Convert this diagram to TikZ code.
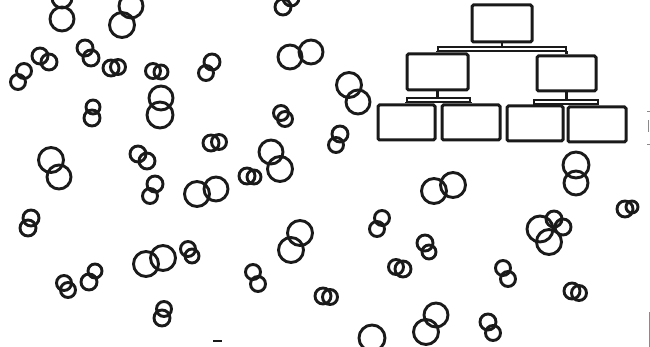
\documentclass[tikz,border=0pt]{standalone}
\usetikzlibrary{calc}
\definecolor{ink}{HTML}{1A1A1A}
\definecolor{faint}{HTML}{8A8A8A}
\begin{document}
\begin{tikzpicture}[x=1pt,y=-1pt,
  ring/.style={draw=ink,line width=2.9pt},
  orgbox/.style={draw=ink,line width=3pt,rectangle,rounded corners=1.5pt,inner sep=0pt,anchor=center},
  link/.style={draw=ink,line width=2.4pt},
  bar/.style={draw=ink,line width=2pt},
  scanmark/.style={draw=faint,line width=1pt}]
\useasboundingbox (0,0) rectangle (650,347);
\fill[white] (0,0) rectangle (650,347);
\begin{scope}
\clip (0,0) rectangle (650,347);
\foreach \cx/\cy/\r in {
  62/-2/10, 62/19/12,
  131/6/12, 122/25/12.5,
  24/71/7.5, 18/82/7.5,
  40/56/8, 49/62/8,
  85/48/8, 91/58/8,
  111/68/8, 118/67/7.5,
  153/71/7.5, 161/72/7,
  212/62/8, 206/73/7.5,
  161/98/12, 160/115/13,
  93/107/7, 92/118/8,
  283/7/8, 291/-2/8,
  290/57/12, 311/52/12,
  349/85/12.5, 358/102/12,
  281/113/7.5, 285/119/7.5,
  51/160/12.5, 59/177/12,
  138/154/8, 147/161/8,
  155/184/8, 150/196/7.5,
  197/194/12.5, 216/189/12,
  211/143/8, 219/142/7.5,
  271/152/12, 280/169/12.5,
  247/176/8, 254/177/7,
  340/134/8, 336/145/7.5,
  434/191/12.5, 453/185/12.5,
  576/165/13, 576/183/12,
  625/209/8, 632/207/6,
  382/218/7.5, 377/229/7.5,
  540/229/13, 554/219/8, 563/227/8, 549/242/12.5,
  31/218/8, 28/228/8,
  64/283/7.5, 68/290/7.5,
  95/271/7, 89/282/8,
  146/264/12.5, 163/258/12.5,
  188/249/7.5, 192/256/7,
  164/309/7.5, 162/318/8,
  300/233/12.5, 291/250/12.5,
  253/272/7.5, 258/284/7.5,
  323/296/8, 330/297/7.5,
  396/267/7.5, 403/269/8,
  372/338/13,
  425/243/8, 429/252/7,
  503/268/7.5, 508/279/7.5,
  572/291/8, 579/293/7.5,
  436/315/12, 426/332/12.5,
  488/322/8, 493/333/7.5}
  {\draw[ring] (\cx,\cy) circle[radius=\r pt];}
% scan marks
\draw[scanmark] (649,312) -- (649,347);
\draw[scanmark] (647,112) -- (650,112);
\draw[scanmark] (648,120) -- (648,132);
\draw[scanmark] (647,145) -- (650,145);
\draw[ink,line width=1.8pt] (213,341) -- (222,341);
\end{scope}
% organisation chart
\node[orgbox,minimum width=60pt,minimum height=37pt] (top) at (502,23.5) {};
\node[orgbox,minimum width=61pt,minimum height=36pt] (midL) at (437.5,72) {};
\node[orgbox,minimum width=59pt,minimum height=35pt] (midR) at (566.5,73.5) {};
\node[orgbox,minimum width=57pt,minimum height=35pt] (b1) at (406.5,122.5) {};
\node[orgbox,minimum width=58pt,minimum height=35pt] (b2) at (471,122.5) {};
\node[orgbox,minimum width=56pt,minimum height=35pt] (b3) at (535,123.5) {};
\node[orgbox,minimum width=58pt,minimum height=35pt] (b4) at (597,124.5) {};
\coordinate (ta) at (438,47.5);
\coordinate (tb) at (566,51.5);
\coordinate (la) at (407,98.5);
\coordinate (lb) at (470,102.5);
\coordinate (ra) at (534,100.5);
\coordinate (rb) at (598,104.5);
\draw[bar] (ta) rectangle (tb);
\draw[bar] (la) rectangle (lb);
\draw[bar] (ra) rectangle (rb);
\draw[link] (top.south) -- (top.south |- ta);
\draw[link] (midL.north |- tb) -- (midL.north);
\draw[link] (midR.north |- tb) -- (midR.north);
\draw[link] (midL.south) -- (midL.south |- la);
\draw[link] (b1.north |- lb) -- (b1.north);
\draw[link] (b2.north |- lb) -- (b2.north);
\draw[link] (midR.south) -- (midR.south |- ra);
\draw[link] (b3.north |- rb) -- (b3.north);
\draw[link] (b4.north |- rb) -- (b4.north);
\end{tikzpicture}
\end{document}
